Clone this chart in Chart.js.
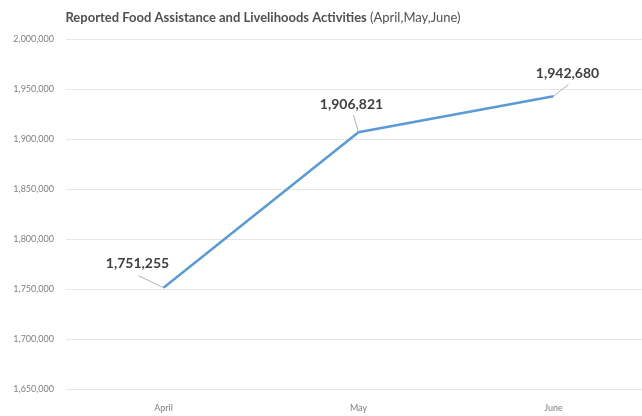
<!DOCTYPE html>
<html>
<head>
<meta charset="utf-8">
<style>
  html, body { margin: 0; padding: 0; background: #fff; overflow: hidden; }
  #wrap { width: 651px; height: 416px; }
</style>
<script src="https://cdn.jsdelivr.net/npm/chart.js@4/dist/chart.umd.min.js"></script>
</head>
<body>
<div id="wrap"><canvas id="foodChart"></canvas></div>
<script>
const months = ["April", "May", "June"];
const activities = [1751255, 1906821, 1942680];
const yMin = 1650000;
const yMax = 2000000;
const yStep = 50000;

const titleBold = "Reported Food Assistance and Livelihoods Activities ";
const titleNormal = "(April,May,June)";

// title in two weights, like the original
const titlePlugin = {
  id: "mixedTitle",
  afterDraw(chart) {
    const ctx = chart.ctx;
    ctx.save();
    ctx.fillStyle = "#505050";
    ctx.textBaseline = "middle";
    ctx.font = "bold 13px Lato";
    const w1 = ctx.measureText(titleBold).width;
    ctx.font = "13px Lato";
    const w2 = ctx.measureText(titleNormal).width;
    let x = 263 - (w1 + w2) / 2;
    ctx.font = "bold 13px Lato";
    ctx.fillText(titleBold, x, 18);
    ctx.font = "13px Lato";
    ctx.fillText(titleNormal, x + w1, 18);
    ctx.restore();
  }
};

// value labels with small leader lines
const labelPlugin = {
  id: "valueLabels",
  afterDatasetsDraw(chart) {
    const ctx = chart.ctx;
    const meta = chart.getDatasetMeta(0);
    // [label dx, label dy, leader end dx, leader end dy]
    const place = [[-26, -24, -25, -12], [-7, -28, -5, -17], [14, -23, 15, -12]];
    ctx.save();
    ctx.font = "bold 14px Lato";
    ctx.textAlign = "center";
    ctx.textBaseline = "middle";
    meta.data.forEach((pt, i) => {
      const p = place[i];
      ctx.strokeStyle = "#b0b0b0";
      ctx.lineWidth = 1;
      ctx.beginPath();
      ctx.moveTo(pt.x, pt.y);
      ctx.lineTo(pt.x + p[2], pt.y + p[3]);
      ctx.stroke();
      ctx.fillStyle = "#404040";
      ctx.fillText(activities[i].toLocaleString("en-US"), pt.x + p[0], pt.y + p[1]);
    });
    ctx.restore();
  }
};

new Chart(document.getElementById("foodChart").getContext("2d"), {
  type: "line",
  data: {
    labels: months,
    datasets: [{
      label: "Activities",
      data: activities,
      borderColor: "#5B9BD5",
      borderWidth: 2.5,
      pointRadius: 0,
      tension: 0,
      fill: false
    }]
  },
  options: {
    responsive: true,
    maintainAspectRatio: false,
    animation: false,
    layout: { padding: { top: 39, right: 0, left: 0, bottom: 0 } },
    plugins: {
      legend: { display: false },
      title: { display: false },
      tooltip: { enabled: false }
    },
    scales: {
      x: {
        offset: true,
        grid: { display: false },
        border: { display: false },
        ticks: { color: "#808080", font: { family: "Lato", size: 9 }, padding: 6 },
        afterFit(scale) { scale.height = 27; }
      },
      y: {
        min: yMin,
        max: yMax,
        grid: { color: "#e6e6e6", drawTicks: false },
        border: { display: false },
        ticks: {
          stepSize: yStep,
          color: "#808080",
          font: { family: "Lato", size: 9 },
          padding: 12,
          callback: v => v.toLocaleString("en-US")
        },
        afterFit(scale) { scale.width = 66; }
      }
    }
  },
  plugins: [titlePlugin, labelPlugin]
});
</script>
</body>
</html>
